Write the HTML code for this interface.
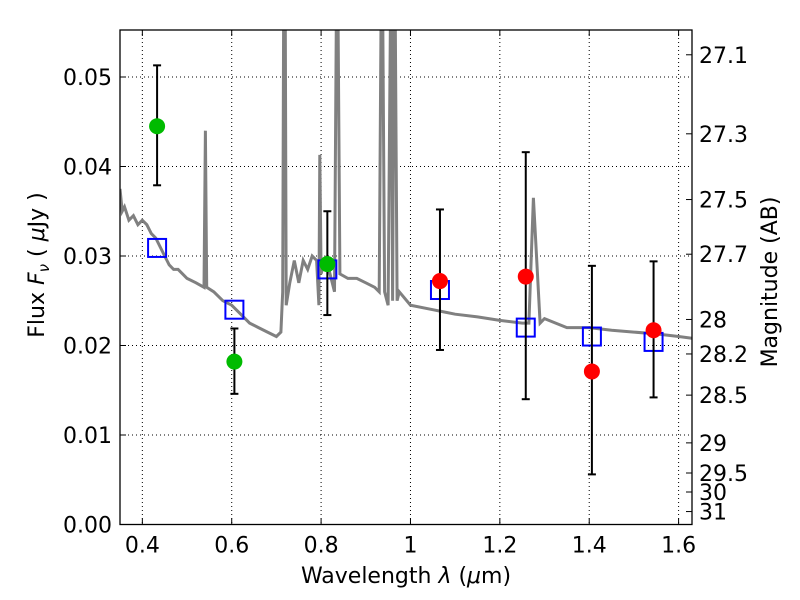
<!DOCTYPE html>
<html><head><meta charset="utf-8"><style>
body{margin:0;background:#fff;}
svg{display:block;font-family:"DejaVu Sans","Liberation Sans",sans-serif;}
</style></head><body>
<svg id="chart" width="800" height="600" viewBox="0 0 800 600">
<g id="grid"></g>
<g id="spec"></g>
<g id="marks"></g>
<g id="axes"></g>
<text x="406" y="583" font-size="22" text-anchor="middle">Wavelength  <tspan font-style="italic">λ</tspan> (<tspan font-style="italic">μ</tspan>m)</text>
<text transform="translate(44,265) rotate(-90)" font-size="22" text-anchor="middle">Flux  <tspan font-style="italic">F</tspan><tspan font-style="italic" font-size="15" dy="5">ν</tspan><tspan dy="-5">  (  </tspan><tspan font-style="italic">μ</tspan>Jy )</text>
<text transform="translate(777,282) rotate(-90)" font-size="22" text-anchor="middle">Magnitude (AB)</text>
</svg>
<script>
const xTicks=[0.4,0.6,0.8,1.0,1.2,1.4,1.6];
const xTickLabels=["0.4","0.6","0.8","1","1.2","1.4","1.6"];
const yTicks=[0,0.01,0.02,0.03,0.04,0.05];
const yTickLabels=["0.00","0.01","0.02","0.03","0.04","0.05"];
const magTicks=[27.1,27.3,27.5,27.7,28,28.2,28.5,29,29.5,30,31];
const magTickLabels=["27.1","27.3","27.5","27.7","28","28.2","28.5","29","29.5","30","31"];
const specWave=[0.35,0.355,0.36,0.37,0.38,0.39,0.40,0.41,0.42,0.43,0.44,0.45,0.46,0.47,0.48,0.49,0.50,0.52,0.538,0.541,0.544,0.56,0.58,0.60,0.62,0.64,0.66,0.68,0.70,0.71,0.714,0.716,0.72,0.722,0.73,0.74,0.75,0.76,0.77,0.78,0.79,0.795,0.797,0.80,0.81,0.82,0.83,0.834,0.836,0.838,0.842,0.86,0.88,0.90,0.92,0.93,0.934,0.936,0.938,0.942,0.95,0.955,0.957,0.96,0.963,0.966,0.97,0.975,1.0,1.05,1.08,1.1,1.15,1.2,1.25,1.265,1.275,1.29,1.30,1.35,1.40,1.45,1.50,1.55,1.60,1.63];
const specFlux=[0.0375,0.035,0.0355,0.034,0.0345,0.0335,0.034,0.0335,0.0325,0.032,0.031,0.030,0.029,0.0285,0.0285,0.028,0.0275,0.027,0.0265,0.044,0.0265,0.026,0.025,0.0245,0.0235,0.0225,0.022,0.0215,0.021,0.0215,0.026,0.056,0.056,0.0245,0.027,0.0295,0.027,0.0295,0.0285,0.030,0.0295,0.0245,0.0413,0.028,0.030,0.028,0.026,0.056,0.056,0.056,0.028,0.0275,0.0275,0.027,0.0265,0.026,0.056,0.056,0.056,0.026,0.0245,0.056,0.056,0.025,0.056,0.056,0.025,0.026,0.0245,0.024,0.0237,0.0235,0.0232,0.0228,0.0225,0.0225,0.0365,0.0225,0.023,0.022,0.022,0.0217,0.0215,0.0213,0.021,0.0208];
const greenWave=[0.433,0.606,0.814];
const greenFlux=[0.0445,0.0182,0.0291];
const greenHi=[0.0513,0.0219,0.0350];
const greenLo=[0.0379,0.0146,0.0234];
const redWave=[1.066,1.258,1.406,1.544];
const redFlux=[0.0272,0.0277,0.0171,0.0217];
const redHi=[0.0352,0.0416,0.0289,0.0294];
const redLo=[0.0195,0.0140,0.0056,0.0142];
const modelWave=[0.433,0.606,0.814,1.066,1.258,1.406,1.544];
const modelFlux=[0.0309,0.0240,0.0285,0.0262,0.0220,0.0210,0.0204];

const L=120,R=692,T=30,B=524.5,XMIN=0.35,XMAX=1.63,YMAX=0.05525;
const X=v=>L+(v-XMIN)/(XMAX-XMIN)*(R-L);
const Y=v=>B-v/YMAX*(B-T);
const NS="http://www.w3.org/2000/svg";
function mk(parent,tag,attrs){const e=document.createElementNS(NS,tag);for(const k in attrs)e.setAttribute(k,attrs[k]);document.getElementById(parent).appendChild(e);return e;}

xTicks.forEach((t,i)=>{const x=X(t);
 let g=mk('grid','line',{x1:x,x2:x,y1:T,y2:B,stroke:'#000','stroke-width':1,'stroke-dasharray':'1,3'});
 
 
 mk('axes','line',{x1:x,x2:x,y1:B,y2:B-6,stroke:'#000'});
 mk('axes','line',{x1:x,x2:x,y1:T,y2:T+6,stroke:'#000'});
 let tx=mk('axes','text',{x:x,y:B+28,'font-size':22,'text-anchor':'middle'});tx.textContent=xTickLabels[i];
 
 
});
yTicks.forEach((t,i)=>{const y=Y(t);
 if(t>0){let g=mk('grid','line',{x1:L,x2:R,y1:y,y2:y,stroke:'#000','stroke-width':1,'stroke-dasharray':'1,3'});
 
 }
 mk('axes','line',{x1:L,x2:L+6,y1:y,y2:y,stroke:'#000'});
 let tx=mk('axes','text',{x:L-8,y:y+8,'font-size':22,'text-anchor':'end'});tx.textContent=yTickLabels[i];
 
 
});
magTicks.forEach((m,i)=>{const f=Math.pow(10,(23.9-m)/2.5);const y=Y(f);
 mk('axes','line',{x1:R-6,x2:R,y1:y,y2:y,stroke:'#000'});
 let tx=mk('axes','text',{x:R+7,y:y+8,'font-size':22});tx.textContent=magTickLabels[i];
 
 
});
let frame=mk('axes','rect',{x:L,y:T,width:R-L,height:B-T,fill:'none',stroke:'#000','stroke-width':1.3});



mk('spec','clipPath',{id:'clip'});
mk('clip','rect',{x:L,y:T,width:R-L,height:B-T});
let d=specWave.map((w,i)=>(i?'L':'M')+X(w).toFixed(1)+','+Y(specFlux[i]).toFixed(1)).join('');
let sp=mk('spec','path',{d:d,fill:'none',stroke:'#808080','stroke-width':3,'clip-path':'url(#clip)'});



modelWave.forEach((w,i)=>{
 let r=mk('marks','rect',{x:X(w)-9,y:Y(modelFlux[i])-9,width:18,height:18,fill:'none',stroke:'#0000ff','stroke-width':2});
 
 
});
function pts(wave,flux,hi,lo,color,name){wave.forEach((w,i)=>{const x=X(w);
 mk('marks','line',{x1:x,x2:x,y1:Y(hi[i]),y2:Y(lo[i]),stroke:'#000','stroke-width':2});
 mk('marks','line',{x1:x-4,x2:x+4,y1:Y(hi[i]),y2:Y(hi[i]),stroke:'#000','stroke-width':2});
 mk('marks','line',{x1:x-4,x2:x+4,y1:Y(lo[i]),y2:Y(lo[i]),stroke:'#000','stroke-width':2});
 let c=mk('marks','circle',{cx:x,cy:Y(flux[i]),r:8,fill:color});
 
 
});}
pts(greenWave,greenFlux,greenHi,greenLo,'#00bb00','hst-optical-point');
pts(redWave,redFlux,redHi,redLo,'#ff0000','hst-ir-point');
</script>
</body></html>
